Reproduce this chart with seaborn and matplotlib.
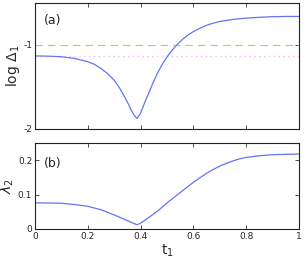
import matplotlib
matplotlib.use("Agg")
import matplotlib.pyplot as plt
import seaborn as sns
import pandas as pd

# Data
t_a = [0.0, 0.05, 0.10, 0.15, 0.20, 0.225, 0.25, 0.275, 0.30, 0.32, 0.34, 0.355, 0.365,
       0.375, 0.386, 0.397, 0.405, 0.415, 0.43, 0.447, 0.46, 0.475, 0.49, 0.505,
       0.52, 0.54, 0.56, 0.58, 0.60, 0.625, 0.65, 0.675, 0.70, 0.75, 0.80, 0.85, 0.90,
       0.95, 1.0]
log_delta = [-1.13, -1.133, -1.14, -1.16, -1.20, -1.23, -1.28, -1.34, -1.42, -1.51, -1.62,
             -1.71, -1.78, -1.835, -1.875, -1.83, -1.77, -1.69, -1.58, -1.45, -1.36,
             -1.27, -1.19, -1.12, -1.06, -0.99, -0.93, -0.88, -0.84, -0.80, -0.765, -0.74,
             -0.72, -0.695, -0.68, -0.67, -0.663, -0.66, -0.66]

t_b = [0.0, 0.05, 0.10, 0.15, 0.20, 0.25, 0.30, 0.33, 0.36, 0.375, 0.386, 0.395, 0.41,
       0.43, 0.45, 0.475, 0.50, 0.525, 0.55, 0.575, 0.60, 0.625, 0.65, 0.675, 0.70,
       0.725, 0.75, 0.775, 0.80, 0.85, 0.90, 0.95, 1.0]
lambda2 = [0.076, 0.0755, 0.075, 0.071, 0.066, 0.056, 0.041, 0.031, 0.021, 0.016, 0.0125,
           0.015, 0.022, 0.033, 0.044, 0.059, 0.076, 0.091, 0.106, 0.121, 0.136, 0.149,
           0.162, 0.173, 0.183, 0.191, 0.198, 0.204, 0.208, 0.213, 0.216, 0.217, 0.218]

ref_dashed = -1.0
ref_dotted = -1.13

xticks = [0, 0.2, 0.4, 0.6, 0.8, 1]
xticklabels = ["0", "0.2", "0.4", "0.6", "0.8", "1"]
a_yticks = [-2, -1]
a_yticklabels = ["-2", "-1"]
b_yticks = [0, 0.1, 0.2]
b_yticklabels = ["0", "0.1", "0.2"]

sns.set_style("ticks")
plt.rcParams['font.family'] = ['DejaVu Sans']

fig = plt.figure(figsize=(3.06, 2.65), dpi=100)
ax1 = fig.add_axes([35/306, 1-129/265, 264/306, 126/265])
ax2 = fig.add_axes([35/306, 1-229/265, 264/306, 86/265])

blue = "#6474f2"
df_a = pd.DataFrame({"t": t_a, "v": log_delta})
df_b = pd.DataFrame({"t": t_b, "v": lambda2})

ax1.axhline(ref_dashed, color="#98e070", lw=0.9, ls=(0, (6, 4)))
ax1.axhline(ref_dotted, color="#f2b8f2", lw=1.0, ls=(0, (1, 2.5)))
sns.lineplot(data=df_a, x="t", y="v", ax=ax1, color=blue, lw=0.9, estimator=None, sort=False)
sns.lineplot(data=df_b, x="t", y="v", ax=ax2, color=blue, lw=0.9, estimator=None, sort=False)

for ax in (ax1, ax2):
    ax.set_xlim(0, 1)
    ax.set_xticks(xticks)
    ax.tick_params(direction="in", length=3, width=0.6, labelsize=6.5, pad=2,
                   top=True, right=True, color="#333333")
    for s in ax.spines.values():
        s.set_linewidth(0.8)
        s.set_color("#222222")

ax1.set_ylim(-2, -0.5)
ax1.set_yticks(a_yticks)
ax1.set_yticklabels(a_yticklabels)
ax1.set_xticklabels([])
ax1.set_xlabel("")
ax1.set_ylabel(r"log $\Delta_1$", fontsize=10, labelpad=1)
ax1.text(0.035, 0.83, "(a)", transform=ax1.transAxes, fontsize=9)

ax2.set_ylim(0, 0.25)
ax2.set_yticks(b_yticks)
ax2.set_yticklabels(b_yticklabels)
ax2.set_xticklabels(xticklabels)
ax2.set_xlabel(r"t$_1$", fontsize=10, labelpad=1)
ax2.set_ylabel(r"$\lambda_2$", fontsize=10, labelpad=1)
ax2.text(0.035, 0.72, "(b)", transform=ax2.transAxes, fontsize=9)

fig.savefig("out.png", dpi=100)
